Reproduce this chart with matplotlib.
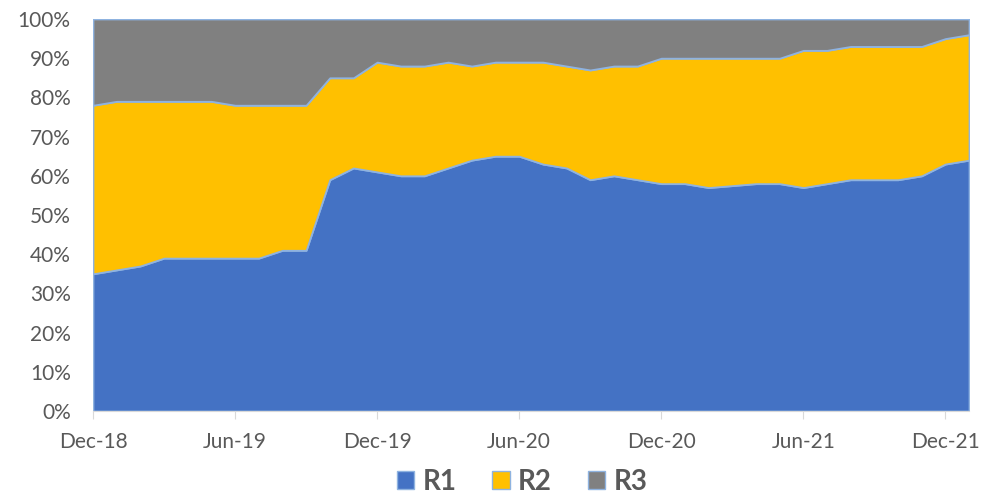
import numpy as np
import pandas as pd
import matplotlib.pyplot as plt
from matplotlib.patches import Patch

plt.rcParams['font.family'] = ['Lato', 'DejaVu Sans']

# monthly, Dec-18 .. Jan-22 (shares in %)
months = pd.date_range('2018-12-01', '2022-01-01', freq='MS')
r1 = [35, 36, 37, 39, 39, 39, 39, 39, 41, 41, 59, 62,
      61, 60, 60, 62, 64, 65, 65, 63, 62, 59, 60, 59,
      58, 58, 57, 57.5, 58, 58, 57, 58, 59, 59, 59, 60,
      63, 64]
r12 = [78, 79, 79, 79, 79, 79, 78, 78, 78, 78, 85, 85,
       89, 88, 88, 89, 88, 89, 89, 89, 88, 87, 88, 88,
       90, 90, 90, 90, 90, 90, 92, 92, 93, 93, 93, 93,
       95, 96]
r1 = np.array(r1)
r2 = np.array(r12) - r1
r3 = 100 - np.array(r12)

tick_idx = list(range(0, len(months), 6))
tick_labels = [months[i].strftime('%b-%y') for i in tick_idx]

COLORS = {'R1': '#4472C4', 'R2': '#FFC000', 'R3': '#808080'}
EDGE = '#8FB3E0'
TEXT = '#595959'

fig = plt.figure(figsize=(9.87, 4.97), dpi=100)
ax = fig.add_axes([0.0942, 0.173, 0.8876, 0.7888])

x = np.arange(len(months))
ax.stackplot(x, r1, r2, r3,
             colors=[COLORS['R1'], COLORS['R2'], COLORS['R3']],
             edgecolor=EDGE, linewidth=1.3)

ax.set_xlim(0, len(months) - 1)
ax.set_ylim(0, 100)
ax.set_yticks(range(0, 101, 10))
ax.set_yticklabels([f'{v}%' for v in range(0, 101, 10)])
ax.set_xticks(tick_idx)
ax.set_xticklabels(tick_labels)

for s in ['left', 'right', 'top']:
    ax.spines[s].set_visible(False)
ax.spines['bottom'].set_color('#D9D9D9')
ax.axhline(100, color='#D9D9D9', linewidth=1.5, zorder=0.5)

ax.tick_params(axis='y', length=0, labelsize=15, labelcolor=TEXT, pad=16)
ax.tick_params(axis='x', length=6, color='#D9D9D9', labelsize=15,
               labelcolor=TEXT, pad=9)

handles = [Patch(facecolor=COLORS[k], edgecolor=EDGE, linewidth=1) for k in COLORS]
fig.legend(handles, list(COLORS), loc='center', bbox_to_anchor=(0.529, 0.03),
           ncol=3, frameon=False, handlelength=0.62, handleheight=0.62,
           handletextpad=0.3, columnspacing=1.3, borderpad=0,
           prop={'size': 20, 'weight': 'bold'}, labelcolor=TEXT)

fig.savefig('out.png', dpi=100)
